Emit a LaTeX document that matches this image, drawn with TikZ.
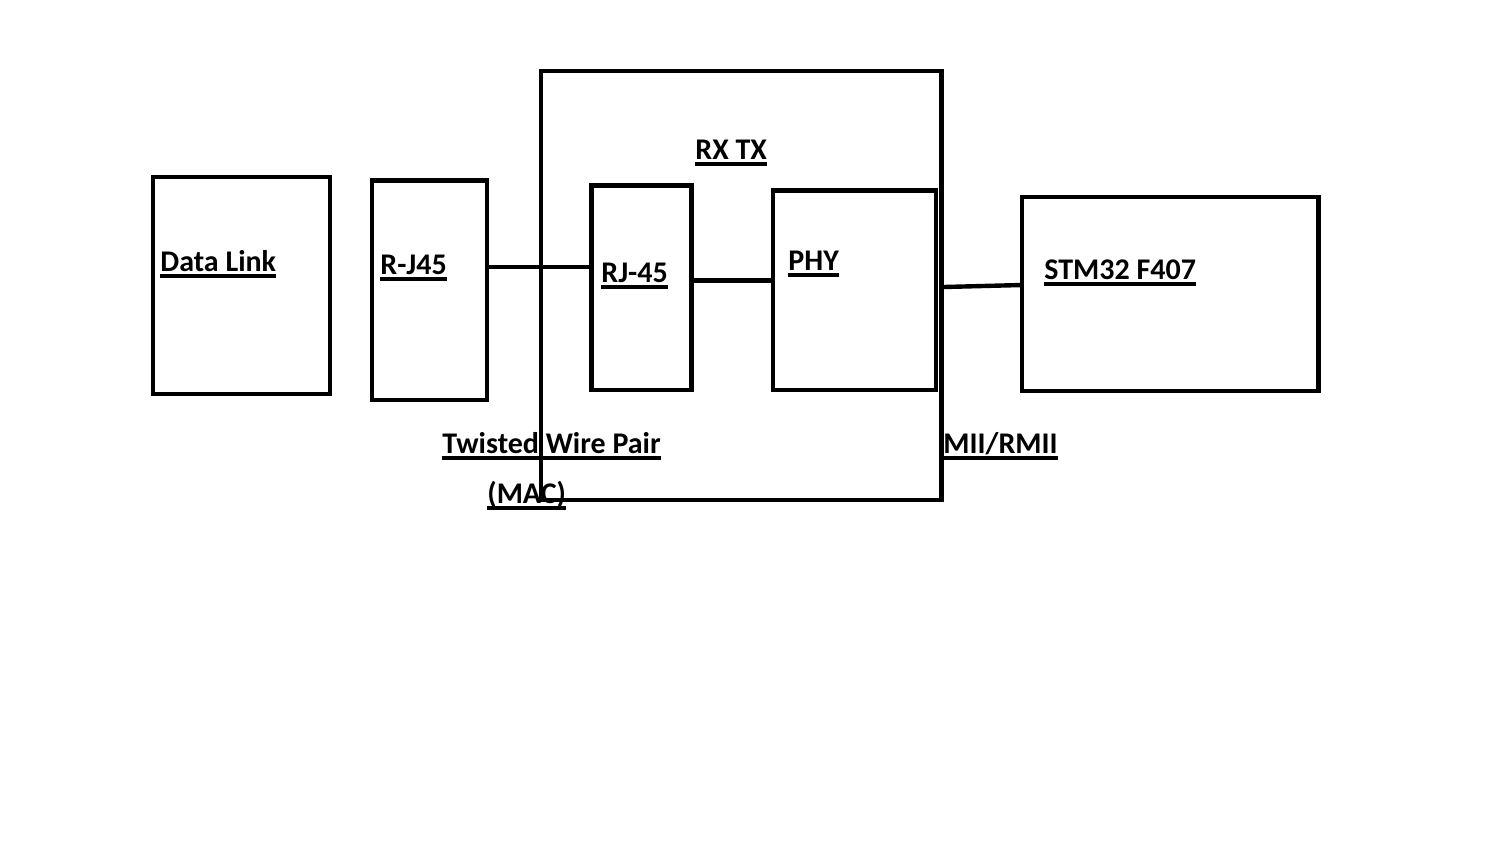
\documentclass[tikz,border=0pt]{standalone}
\usepackage{fontspec}
\setmainfont{Carlito}
\newcommand\myul[1]{\setbox0\hbox{#1}\rlap{\vrule height -1.7pt depth 3.3pt width \wd0}\box0}
\tikzset{
  blk/.style={draw=black, line width=2.2pt, rectangle, inner sep=0pt, fill=none},
  lbl/.style={anchor=base west, inner sep=0pt, font=\fontsize{15pt}{18pt}\selectfont\bfseries},
  wire/.style={draw=black, line width=2.2pt}
}
\begin{document}
\begin{tikzpicture}[x=0.5pt, y=-0.5pt]
\useasboundingbox[fill=white] (0,0) rectangle (1500,843);
% boxes (centre, size in pt = px/2)
\node[blk, minimum width=88.5pt, minimum height=108.5pt] (dl) at (241.75,285.5) {};
\node[blk, minimum width=57.5pt, minimum height=109.75pt] (rja) at (429.5,290.25) {};
\node[blk, minimum width=200.25pt, minimum height=214.5pt] (mac) at (741.25,285.75) {};
\node[blk, minimum width=50pt, minimum height=102.25pt] (rjb) at (641.5,287.75) {};
\node[blk, minimum width=81.5pt, minimum height=99.75pt] (phy) at (854.5,290.25) {};
\node[blk, minimum width=148.25pt, minimum height=97pt] (stm) at (1170.25,294) {};
% connectors
\draw[wire] (rja.east |- 0,267) -- ([xshift=1.5pt]rjb.west |- 0,267);
\draw[wire] (rjb.east |- 0,280.5) -- ([xshift=1pt]phy.west |- 0,280.5);
\draw[wire] (mac.east |- 0,287) -- ([xshift=1pt]stm.west |- 0,285);
% labels
\node[lbl] (tdl) at (160,271) {\myul{Data Link}};
\node[lbl] (trja) at (380,274) {\myul{R-J45}};
\node[lbl] (trx) at (695,159) {\myul{RX TX}};
\node[lbl] (trjb) at (601,282) {\myul{RJ-45}};
\node[lbl] (tphy) at (788,270) {\myul{PHY}};
\node[lbl] (tstm) at (1044,279) {\myul{STM32 F407}};
\node[lbl] (ttw) at (442,453) {\myul{Twisted Wire Pair}};
\node[lbl] (tmac) at (487,503) {\myul{(MAC)}};
\node[lbl] (tmii) at (943,453) {\myul{MII/RMII}};
\end{tikzpicture}
\end{document}
